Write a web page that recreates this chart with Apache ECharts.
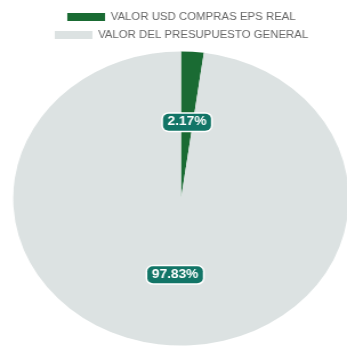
<!DOCTYPE html>
<html>
<head>
<meta charset="utf-8">
<script src="https://cdn.jsdelivr.net/npm/echarts@6/dist/echarts.min.js"></script>
<style>
html,body{margin:0;padding:0;background:#fff;overflow:hidden;}
#wrap{width:347px;height:347px;overflow:hidden;}
#c{width:318px;height:347px;transform:scaleX(1.1414);transform-origin:0 0;}
</style>
</head>
<body>
<div id="wrap"><div id="c"></div></div>
<script>
const categories = ['VALOR USD COMPRAS EPS REAL', 'VALOR DEL PRESUPUESTO GENERAL'];
const values = [2.17, 97.83];
const colors = ['#1a6b33', '#dce2e2'];

const legendBase = {
  left: 'center',
  itemWidth: 33,
  itemHeight: 8,
  icon: 'rect',
  textStyle: {color: '#666', fontSize: 10, fontFamily: 'Liberation Sans, Arial, sans-serif'}
};

const chart = echarts.init(document.getElementById('c'), null, {renderer: 'canvas'});
chart.setOption({
  animation: false,
  color: colors,
  legend: [
    Object.assign({}, legendBase, {top: 7, data: [categories[0]]}),
    Object.assign({}, legendBase, {top: 25, data: [categories[1]]})
  ],
  series: [{
    type: 'pie',
    center: [158.6, 198.5],
    radius: 147,
    startAngle: 90,
    clockwise: true,
    label: {
      position: 'inside',
      formatter: '{c}%',
      color: '#fff',
      fontWeight: 'bold',
      fontSize: 12,
      fontFamily: 'Liberation Sans, Arial, sans-serif',
      backgroundColor: '#127567',
      borderColor: '#fff',
      borderWidth: 1.5,
      borderRadius: 5,
      padding: [3, 4, 2, 4]
    },
    labelLine: {show: false},
    emphasis: {disabled: true},
    itemStyle: {borderWidth: 0},
    data: categories.map((n, i) => ({name: n, value: values[i]}))
  }]
});
</script>
</body>
</html>
